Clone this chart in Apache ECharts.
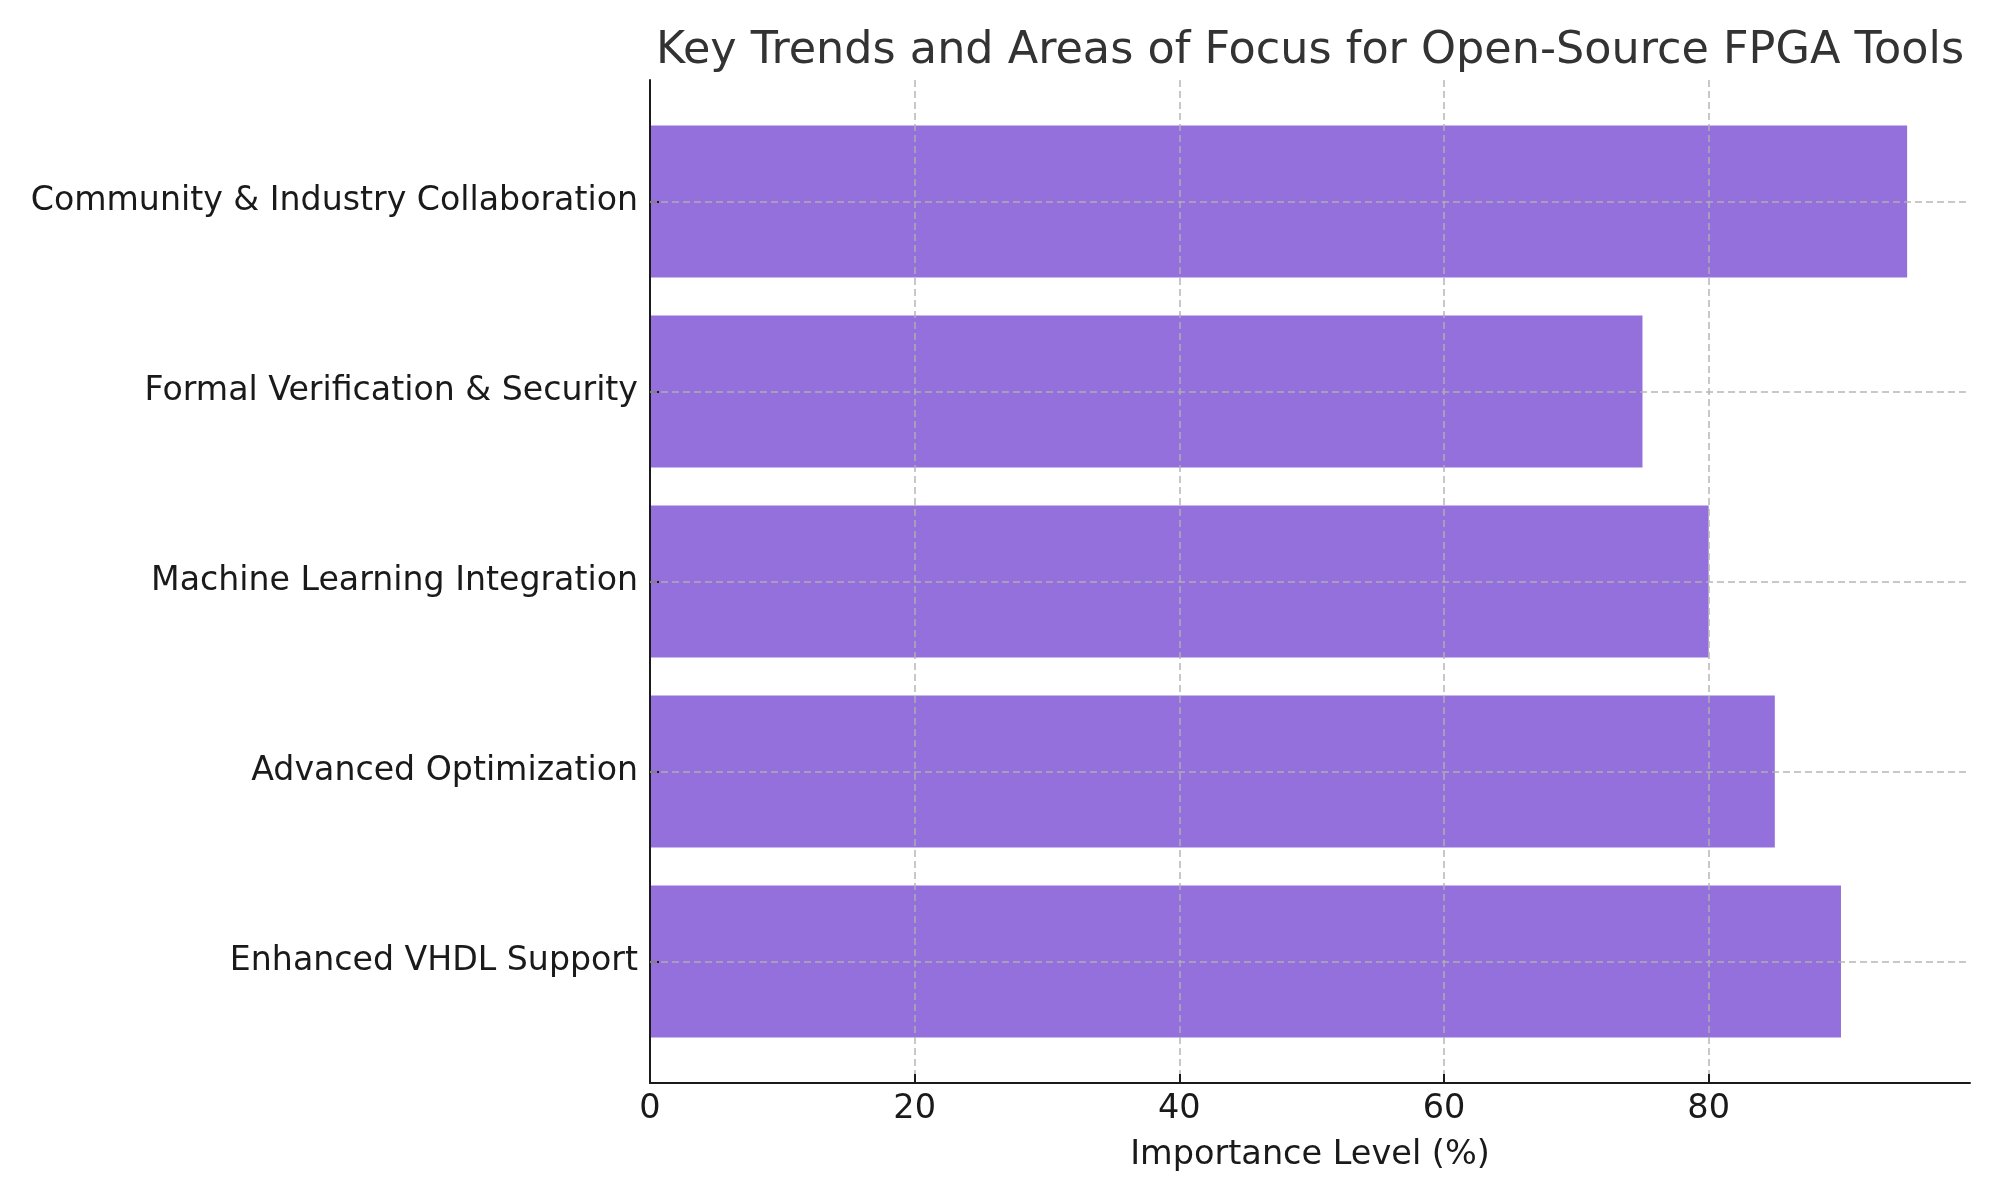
<!DOCTYPE html>
<html>
<head>
<meta charset="utf-8">
<script src="https://cdn.jsdelivr.net/npm/echarts@6/dist/echarts.min.js"></script>
<style>
html,body{margin:0;padding:0;background:#fff;}
#chart{width:2000px;height:1200px;}
</style>
</head>
<body>
<div id="chart"></div>
<script>
const categories = [
  "Community & Industry Collaboration",
  "Formal Verification & Security",
  "Machine Learning Integration",
  "Advanced Optimization",
  "Enhanced VHDL Support"
];
const importance = [95, 75, 80, 85, 90];
const xTicks = [0, 20, 40, 60, 80];

const FONT = "DejaVu Sans";
const axLeft = 650, axTop = 80, axW = 1320, axH = 1003;
const band = axH / 5.28;
const barTop = axTop + 0.14 * band;
const barH = 5 * band;
const gridColor = "rgba(176,176,176,0.7)";

const chart = echarts.init(document.getElementById('chart'), null, {renderer: 'canvas'});
chart.setOption({
  backgroundColor: '#ffffff',
  animation: false,
  title: {
    text: 'Key Trends and Areas of Focus for Open-Source FPGA Tools',
    left: 1305,
    textAlign: 'center',
    top: 24,
    textStyle: {fontFamily: FONT, fontSize: 44.5, fontWeight: 'normal', color: '#333333'}
  },
  grid: [
    {left: axLeft, top: barTop, width: axW, height: barH, containLabel: false},
    {left: axLeft, top: axTop, width: axW, height: axH, containLabel: false}
  ],
  xAxis: [
    {gridIndex: 0, type: 'value', min: 0, max: 99.75, show: false},
    {
      gridIndex: 1, type: 'value', min: 0, max: 99.75, interval: 20, z: 5,
      name: 'Importance Level (%)', nameLocation: 'middle', nameGap: 55,
      nameTextStyle: {fontFamily: FONT, fontSize: 33.5, color: '#1a1a1a'},
      axisLine: {show: true, onZero: false, lineStyle: {color: '#1a1a1a', width: 2}},
      axisTick: {show: true, inside: true, length: 9, customValues: xTicks, lineStyle: {color: '#1a1a1a', width: 2}},
      axisLabel: {
        fontFamily: FONT, fontSize: 33.5, color: '#1a1a1a', margin: 9,
        customValues: xTicks
      },
      splitLine: {show: true, showMaxLine: true, showMinLine: false, lineStyle: {color: gridColor, width: 2, type: [7, 4]}}
    }
  ],
  yAxis: [
    {
      gridIndex: 0, type: 'category', data: categories, inverse: true, z: 5,
      axisLine: {show: false},
      axisTick: {show: true, inside: true, alignWithLabel: true, length: 9, lineStyle: {color: '#1a1a1a', width: 2}},
      axisLabel: {fontFamily: FONT, fontSize: 33.2, color: '#1a1a1a', margin: 12, verticalAlign: 'middle'},
      splitLine: {show: false}
    },
    {
      gridIndex: 1, type: 'value', min: 0, max: 1, z: 5,
      axisLine: {show: true, onZero: false, lineStyle: {color: '#1a1a1a', width: 2}},
      axisTick: {show: false}, axisLabel: {show: false}, splitLine: {show: false}
    }
  ],
  series: [{
    type: 'bar',
    xAxisIndex: 0, yAxisIndex: 0,
    data: importance,
    barWidth: '80%',
    itemStyle: {color: '#9370DB'},
    markLine: {
      silent: true,
      symbol: ['none', 'none'],
      label: {show: false},
      z: 10,
      lineStyle: {color: gridColor, width: 2, type: [7, 4]},
      data: categories.map(c => ({yAxis: c}))
    }
  }]
});
</script>
</body>
</html>
